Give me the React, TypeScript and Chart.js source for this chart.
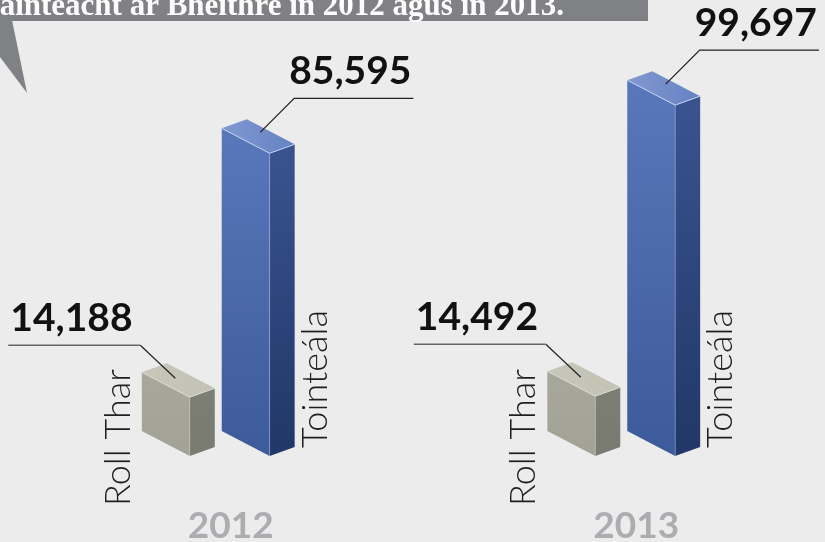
import React, { useEffect, useRef } from 'react';
import { Chart, registerables } from 'chart.js';

Chart.register(...registerables);

const YEARS = ['2012', '2013'];
const ROLL_THAR = [14188, 14492];
const TOINTEALA = [85595, 99697];
const SERIES_NAMES = ['Roll Thar', 'Tointeála'];
const TITLE_TEXT = 'nainteacht ar Bhéithre in 2012 agus in 2013.';

const Y_MIN = -3000;
const Y_MAX = 98000;

const SLANT = 0.52;
const DEPTH_X = 25;
const DEPTH_Y = -9;

type BoxColors = {
  frontTop: string;
  frontBottom: string;
  sideTop: string;
  sideBottom: string;
  topLeft: string;
  topRight: string;
  edge: string;
};

const GRAY_BOX: BoxColors = {
  frontTop: '#a7a89b',
  frontBottom: '#a2a396',
  sideTop: '#7e7f74',
  sideBottom: '#797a70',
  topLeft: '#c6c7b9',
  topRight: '#c2c3b4',
  edge: '#d9dacd',
};

const BLUE_BOX: BoxColors = {
  frontTop: '#5878bb',
  frontBottom: '#3d5a9a',
  sideTop: '#3a5592',
  sideBottom: '#213767',
  topLeft: '#8199d1',
  topRight: '#6682c3',
  edge: '#c3d1ef',
};

function drawBox(ctx: CanvasRenderingContext2D, L: number, w: number, top: number, bottom: number, c: BoxColors) {
  const R = L + w;
  const sl = w * SLANT;
  let g = ctx.createLinearGradient(0, top, 0, bottom + sl);
  g.addColorStop(0, c.sideTop);
  g.addColorStop(1, c.sideBottom);
  ctx.fillStyle = g;
  ctx.beginPath();
  ctx.moveTo(R, top + sl);
  ctx.lineTo(R + DEPTH_X, top + sl + DEPTH_Y);
  ctx.lineTo(R + DEPTH_X, bottom + sl + DEPTH_Y);
  ctx.lineTo(R, bottom + sl);
  ctx.closePath();
  ctx.fill();
  g = ctx.createLinearGradient(0, top, 0, bottom + sl);
  g.addColorStop(0, c.frontTop);
  g.addColorStop(1, c.frontBottom);
  ctx.fillStyle = g;
  ctx.beginPath();
  ctx.moveTo(L, top);
  ctx.lineTo(R, top + sl);
  ctx.lineTo(R, bottom + sl);
  ctx.lineTo(L, bottom);
  ctx.closePath();
  ctx.fill();
  g = ctx.createLinearGradient(L, 0, R + DEPTH_X, 0);
  g.addColorStop(0, c.topLeft);
  g.addColorStop(1, c.topRight);
  ctx.fillStyle = g;
  ctx.beginPath();
  ctx.moveTo(L, top);
  ctx.lineTo(L + DEPTH_X, top + DEPTH_Y);
  ctx.lineTo(R + DEPTH_X, top + sl + DEPTH_Y);
  ctx.lineTo(R, top + sl);
  ctx.closePath();
  ctx.fill();
  ctx.strokeStyle = c.edge;
  ctx.lineWidth = 1;
  ctx.beginPath();
  ctx.moveTo(L, top);
  ctx.lineTo(R, top + sl);
  ctx.lineTo(R + DEPTH_X, top + sl + DEPTH_Y);
  ctx.stroke();
  ctx.globalAlpha = 0.35;
  ctx.beginPath();
  ctx.moveTo(R, top + sl);
  ctx.lineTo(R, bottom + sl);
  ctx.stroke();
  ctx.globalAlpha = 1;
}

const boxPlugin = {
  id: 'box3d',
  afterDraw(chart: any) {
    const ctx: CanvasRenderingContext2D = chart.ctx;
    ctx.save();
    // speech bubble
    ctx.fillStyle = '#808185';
    ctx.fillRect(0, 0, 648, 21);
    ctx.beginPath();
    ctx.moveTo(0, 20);
    ctx.lineTo(12, 20);
    ctx.lineTo(27, 93);
    ctx.lineTo(0, 57);
    ctx.closePath();
    ctx.fill();
    ctx.fillStyle = '#ffffff';
    ctx.font = 'bold 31px "Liberation Serif"';
    ctx.textAlign = 'right';
    ctx.textBaseline = 'alphabetic';
    ctx.fillText(TITLE_TEXT, 564, 15);

    chart.data.datasets.forEach((ds: any, di: number) => {
      const meta = chart.getDatasetMeta(di);
      meta.data.forEach((el: any, i: number) => {
        const p = el.getProps(['x', 'y', 'base', 'width'], true);
        const w = p.width;
        const L = p.x - w / 2;
        const R = L + w;
        const top = p.y;
        const bottom = p.base;
        drawBox(ctx, L, w, top, bottom, di === 0 ? GRAY_BOX : BLUE_BOX);

        ctx.save();
        ctx.fillStyle = '#1e1e1e';
        ctx.font = '300 36px Lato';
        ctx.textAlign = 'left';
        ctx.textBaseline = 'alphabetic';
        if (di === 0) {
          ctx.translate(L - 12, bottom + 75);
        } else {
          ctx.translate(R + 57, bottom + 17);
        }
        ctx.rotate(-Math.PI / 2);
        ctx.fillText(ds.label, 0, 0);
        ctx.restore();

        const v = ds.data[i] as number;
        const txt = v.toLocaleString('en-US');
        ctx.font = 'bold 39px Lato';
        const tw = ctx.measureText(txt).width;
        const cx = L + (w + DEPTH_X) / 2;
        const cy = top + (w * SLANT + DEPTH_Y) / 2;
        ctx.fillStyle = '#111111';
        ctx.textAlign = 'left';
        if (di === 1) {
          const ex = cx + 36;
          const ey = cy - 38;
          ctx.strokeStyle = '#222222';
          ctx.lineWidth = 1.3;
          ctx.beginPath();
          ctx.moveTo(cx + 2, cy - 4);
          ctx.lineTo(ex, ey);
          ctx.lineTo(ex - 5 + tw + 2, ey);
          ctx.stroke();
          ctx.fillText(txt, ex - 5, ey - 14);
        } else {
          const ex = cx - 38;
          const ey = cy - 35;
          ctx.strokeStyle = '#222222';
          ctx.lineWidth = 1.2;
          ctx.beginPath();
          ctx.moveTo(cx - 3, cy - 2);
          ctx.lineTo(ex, ey);
          ctx.stroke();
          ctx.strokeStyle = '#666666';
          ctx.lineWidth = 1.6;
          ctx.beginPath();
          ctx.moveTo(ex, ey);
          ctx.lineTo(ex - 132, ey);
          ctx.stroke();
          ctx.fillText(txt, ex - 130, ey - 14);
        }
      });
    });
    ctx.restore();
  },
};

export default function App() {
  const ref = useRef<HTMLCanvasElement>(null);
  useEffect(() => {
    if (!ref.current) return;
    const chart = new Chart(ref.current, {
      type: 'bar',
      data: {
        labels: YEARS,
        datasets: [
          { label: SERIES_NAMES[0], data: ROLL_THAR, backgroundColor: 'rgba(0,0,0,0)', base: Y_MIN } as any,
          { label: SERIES_NAMES[1], data: TOINTEALA, backgroundColor: 'rgba(0,0,0,0)', base: Y_MIN } as any,
        ],
      },
      options: {
        responsive: false,
        animation: false,
        events: [],
        categoryPercentage: 0.394,
        barPercentage: 0.6,
        layout: { padding: { left: 3, right: 11, top: 86, bottom: 0 } },
        plugins: { legend: { display: false }, tooltip: { enabled: false }, title: { display: false } },
        scales: {
          y: { display: false, min: Y_MIN, max: Y_MAX },
          x: {
            grid: { display: false, drawTicks: false },
            border: { display: false },
            ticks: {
              color: '#abadb0',
              font: { family: 'Lato', size: 37, weight: 'bold', lineHeight: 1.2 },
              labelOffset: 25,
              padding: 73,
              maxRotation: 0,
              autoSkip: false,
            },
            afterFit: (s: any) => {
              s.height = 111;
            },
          },
        },
      } as any,
      plugins: [boxPlugin],
    });
    return () => chart.destroy();
  }, []);
  return (
    <div style={{ position: 'fixed', left: 0, top: 0, width: 825, height: 542, background: '#ececec', overflow: 'hidden' }}>
      <canvas ref={ref} width={825} height={542} style={{ display: 'block' }} />
    </div>
  );
}
